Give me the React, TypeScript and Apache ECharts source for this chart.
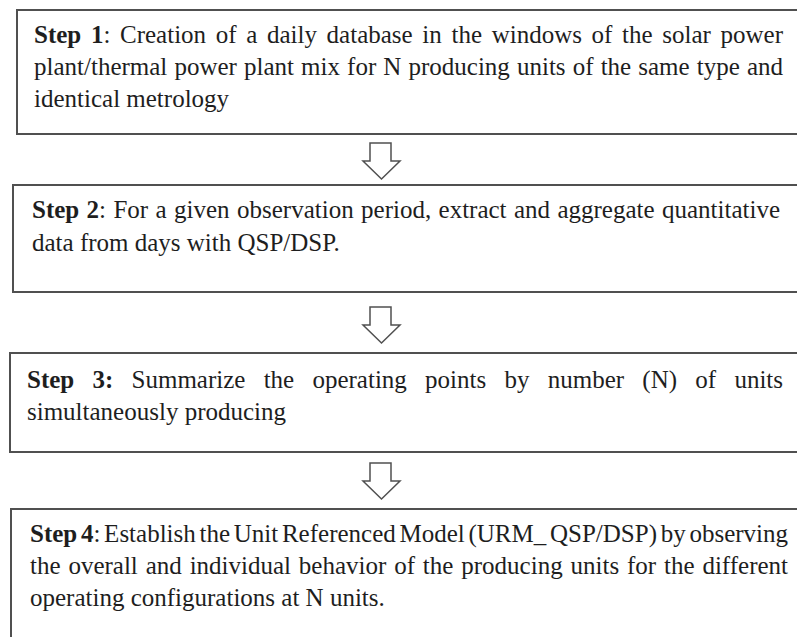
import React, { useEffect, useRef } from "react";
import * as echarts from "echarts";

// Text of each step (words wrapped in *...* are bold); one entry per printed line
const STEP1_LINES = [
  "*Step* *1*: Creation of a daily database in the windows of the solar power",
  "plant/thermal power plant mix for N producing units of the same type and",
  "identical metrology",
];
const STEP2_LINES = [
  "*Step* *2*: For a given observation period, extract and aggregate quantitative",
  "data from days with QSP/DSP.",
];
const STEP3_LINES = [
  "*Step* *3:* Summarize the operating points by number (N) of units",
  "simultaneously producing",
];
const STEP4_LINES = [
  "*Step* *4*: Establish the Unit Referenced Model (URM_ QSP/DSP) by observing",
  "the overall and individual behavior of the producing units for the different",
  "operating configurations at N units.",
];

// Layout (pixels)
const W = 797;
const H = 637;
const FONT = '"Liberation Serif", "Times New Roman", serif';
const FS = 25;
const TEXT_COLOR = "#1e1e1e";
const LINE_COLOR = "#505050";

const BOXES = [
  { x: 17, top: 10, bottom: 134, left: 34, right: 783, baselines: [43, 75, 107], lines: STEP1_LINES },
  { x: 13, top: 185, bottom: 292, left: 32, right: 780, baselines: [218, 251], lines: STEP2_LINES },
  { x: 10, top: 353, bottom: 452, left: 27, right: 783, baselines: [388, 420], lines: STEP3_LINES },
  { x: 11, top: 509, bottom: 680, left: 30, right: 788, baselines: [542, 574, 606], lines: STEP4_LINES },
];
const ARROW_TOPS = [143, 307, 463];

type Seg = { t: string; b: boolean };

function parseWord(w: string): Seg[] {
  return w
    .split("*")
    .map((t, i) => ({ t, b: i % 2 === 1 }))
    .filter((s) => s.t.length > 0);
}

export default function App() {
  const ref = useRef<HTMLDivElement>(null);
  useEffect(() => {
    if (!ref.current) return;
    const chart = echarts.init(ref.current, null, { renderer: "svg" });
    const canvas = document.createElement("canvas");
    const ctx = canvas.getContext("2d")!;
    const measure = (t: string, b: boolean) => {
      ctx.font = `${b ? "bold " : ""}${FS}px ${FONT}`;
      return ctx.measureText(t).width;
    };
    const spaceW = measure(" ", false);
    const elements: any[] = [];

    BOXES.forEach((box) => {
      elements.push({
        type: "rect",
        silent: true,
        shape: { x: box.x, y: box.top, width: W + 40 - box.x, height: box.bottom - box.top },
        style: { fill: "#ffffff", stroke: LINE_COLOR, lineWidth: 2 },
      });
      box.lines.forEach((line, li) => {
        const words = line.split(" ").map(parseWord);
        const widths = words.map((segs) => segs.reduce((s, g) => s + measure(g.t, g.b), 0));
        const total = widths.reduce((a, b) => a + b, 0);
        const isLast = li === box.lines.length - 1;
        const gap = !isLast && words.length > 1 ? (box.right - box.left - total) / (words.length - 1) : spaceW;
        let cx = box.left;
        const y = box.baselines[li] - FS * 0.3375;
        words.forEach((segs, wi) => {
          let sx = cx;
          segs.forEach((g) => {
            elements.push({
              type: "text",
              silent: true,
              x: sx,
              y,
              style: {
                text: g.t,
                fontFamily: FONT,
                fontSize: FS,
                fontWeight: g.b ? "bold" : "normal",
                fill: TEXT_COLOR,
                align: "left",
                verticalAlign: "middle",
              },
            });
            sx += measure(g.t, g.b);
          });
          cx += widths[wi] + gap;
        });
      });
    });

    ARROW_TOPS.forEach((y0) => {
      elements.push({
        type: "polygon",
        silent: true,
        shape: {
          points: [
            [370, y0],
            [391, y0],
            [391, y0 + 18],
            [400, y0 + 18],
            [381.5, y0 + 36],
            [363, y0 + 18],
            [370, y0 + 18],
          ],
        },
        style: { fill: "#ffffff", stroke: LINE_COLOR, lineWidth: 1.5 },
      });
    });

    chart.setOption({
      animation: false,
      backgroundColor: "#ffffff",
      graphic: { elements },
    });
    return () => chart.dispose();
  }, []);
  return (
    <div
      ref={ref}
      style={{ position: "absolute", left: 0, top: 0, width: W, height: H, background: "#fff" }}
    />
  );
}
